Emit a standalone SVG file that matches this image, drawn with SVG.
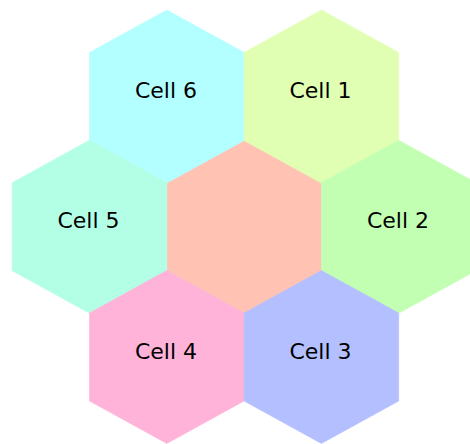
<svg xmlns="http://www.w3.org/2000/svg" width="470" height="444" viewBox="0 0 470 444">
<style>
.lbl{font-family:"DejaVu Sans",sans-serif;font-size:22px;fill:#000;text-anchor:middle}
polygon{stroke-width:0.6;stroke-linejoin:miter}
</style>
<rect width="470" height="444" fill="#fff"/>
<g id="center"><polygon points="244.1,140.2 321.4,182.7 321.4,270.7 244.1,313.2 166.8,270.7 166.8,182.7" fill="#ffc2b3" stroke="#ffc2b3"/></g>
<g id="cell6"><polygon points="166.8,10 244.1,52.5 244.1,140.5 166.8,183 89.5,140.5 89.5,52.5" fill="#b3ffff" stroke="#b3ffff"/><text class="lbl" x="166" y="98.3">Cell 6</text></g>
<g id="cell1"><polygon points="321.4,10 398.7,52.5 398.7,140.5 321.4,183 244.1,140.5 244.1,52.5" fill="#e0ffb3" stroke="#e0ffb3"/><text class="lbl" x="320.5" y="98.3">Cell 1</text></g>
<g id="cell5"><polygon points="89.5,140.2 166.8,182.7 166.8,270.7 89.5,313.2 12.2,270.7 12.2,182.7" fill="#b3ffe6" stroke="#b3ffe6"/><text class="lbl" x="88.5" y="228.3">Cell 5</text></g>
<g id="cell2"><polygon points="398.7,140.2 476,182.7 476,270.7 398.7,313.2 321.4,270.7 321.4,182.7" fill="#c2ffb3" stroke="#c2ffb3"/><text class="lbl" x="398" y="228.3">Cell 2</text></g>
<g id="cell4"><polygon points="166.8,270.5 244.1,313 244.1,401 166.8,443.5 89.5,401 89.5,313" fill="#ffb3d9" stroke="#ffb3d9"/><text class="lbl" x="166" y="359">Cell 4</text></g>
<g id="cell3"><polygon points="321.4,270.5 398.7,313 398.7,401 321.4,443.5 244.1,401 244.1,313" fill="#b3bfff" stroke="#b3bfff"/><text class="lbl" x="320.5" y="359">Cell 3</text></g>
<g id="connectors"></g>
</svg>
